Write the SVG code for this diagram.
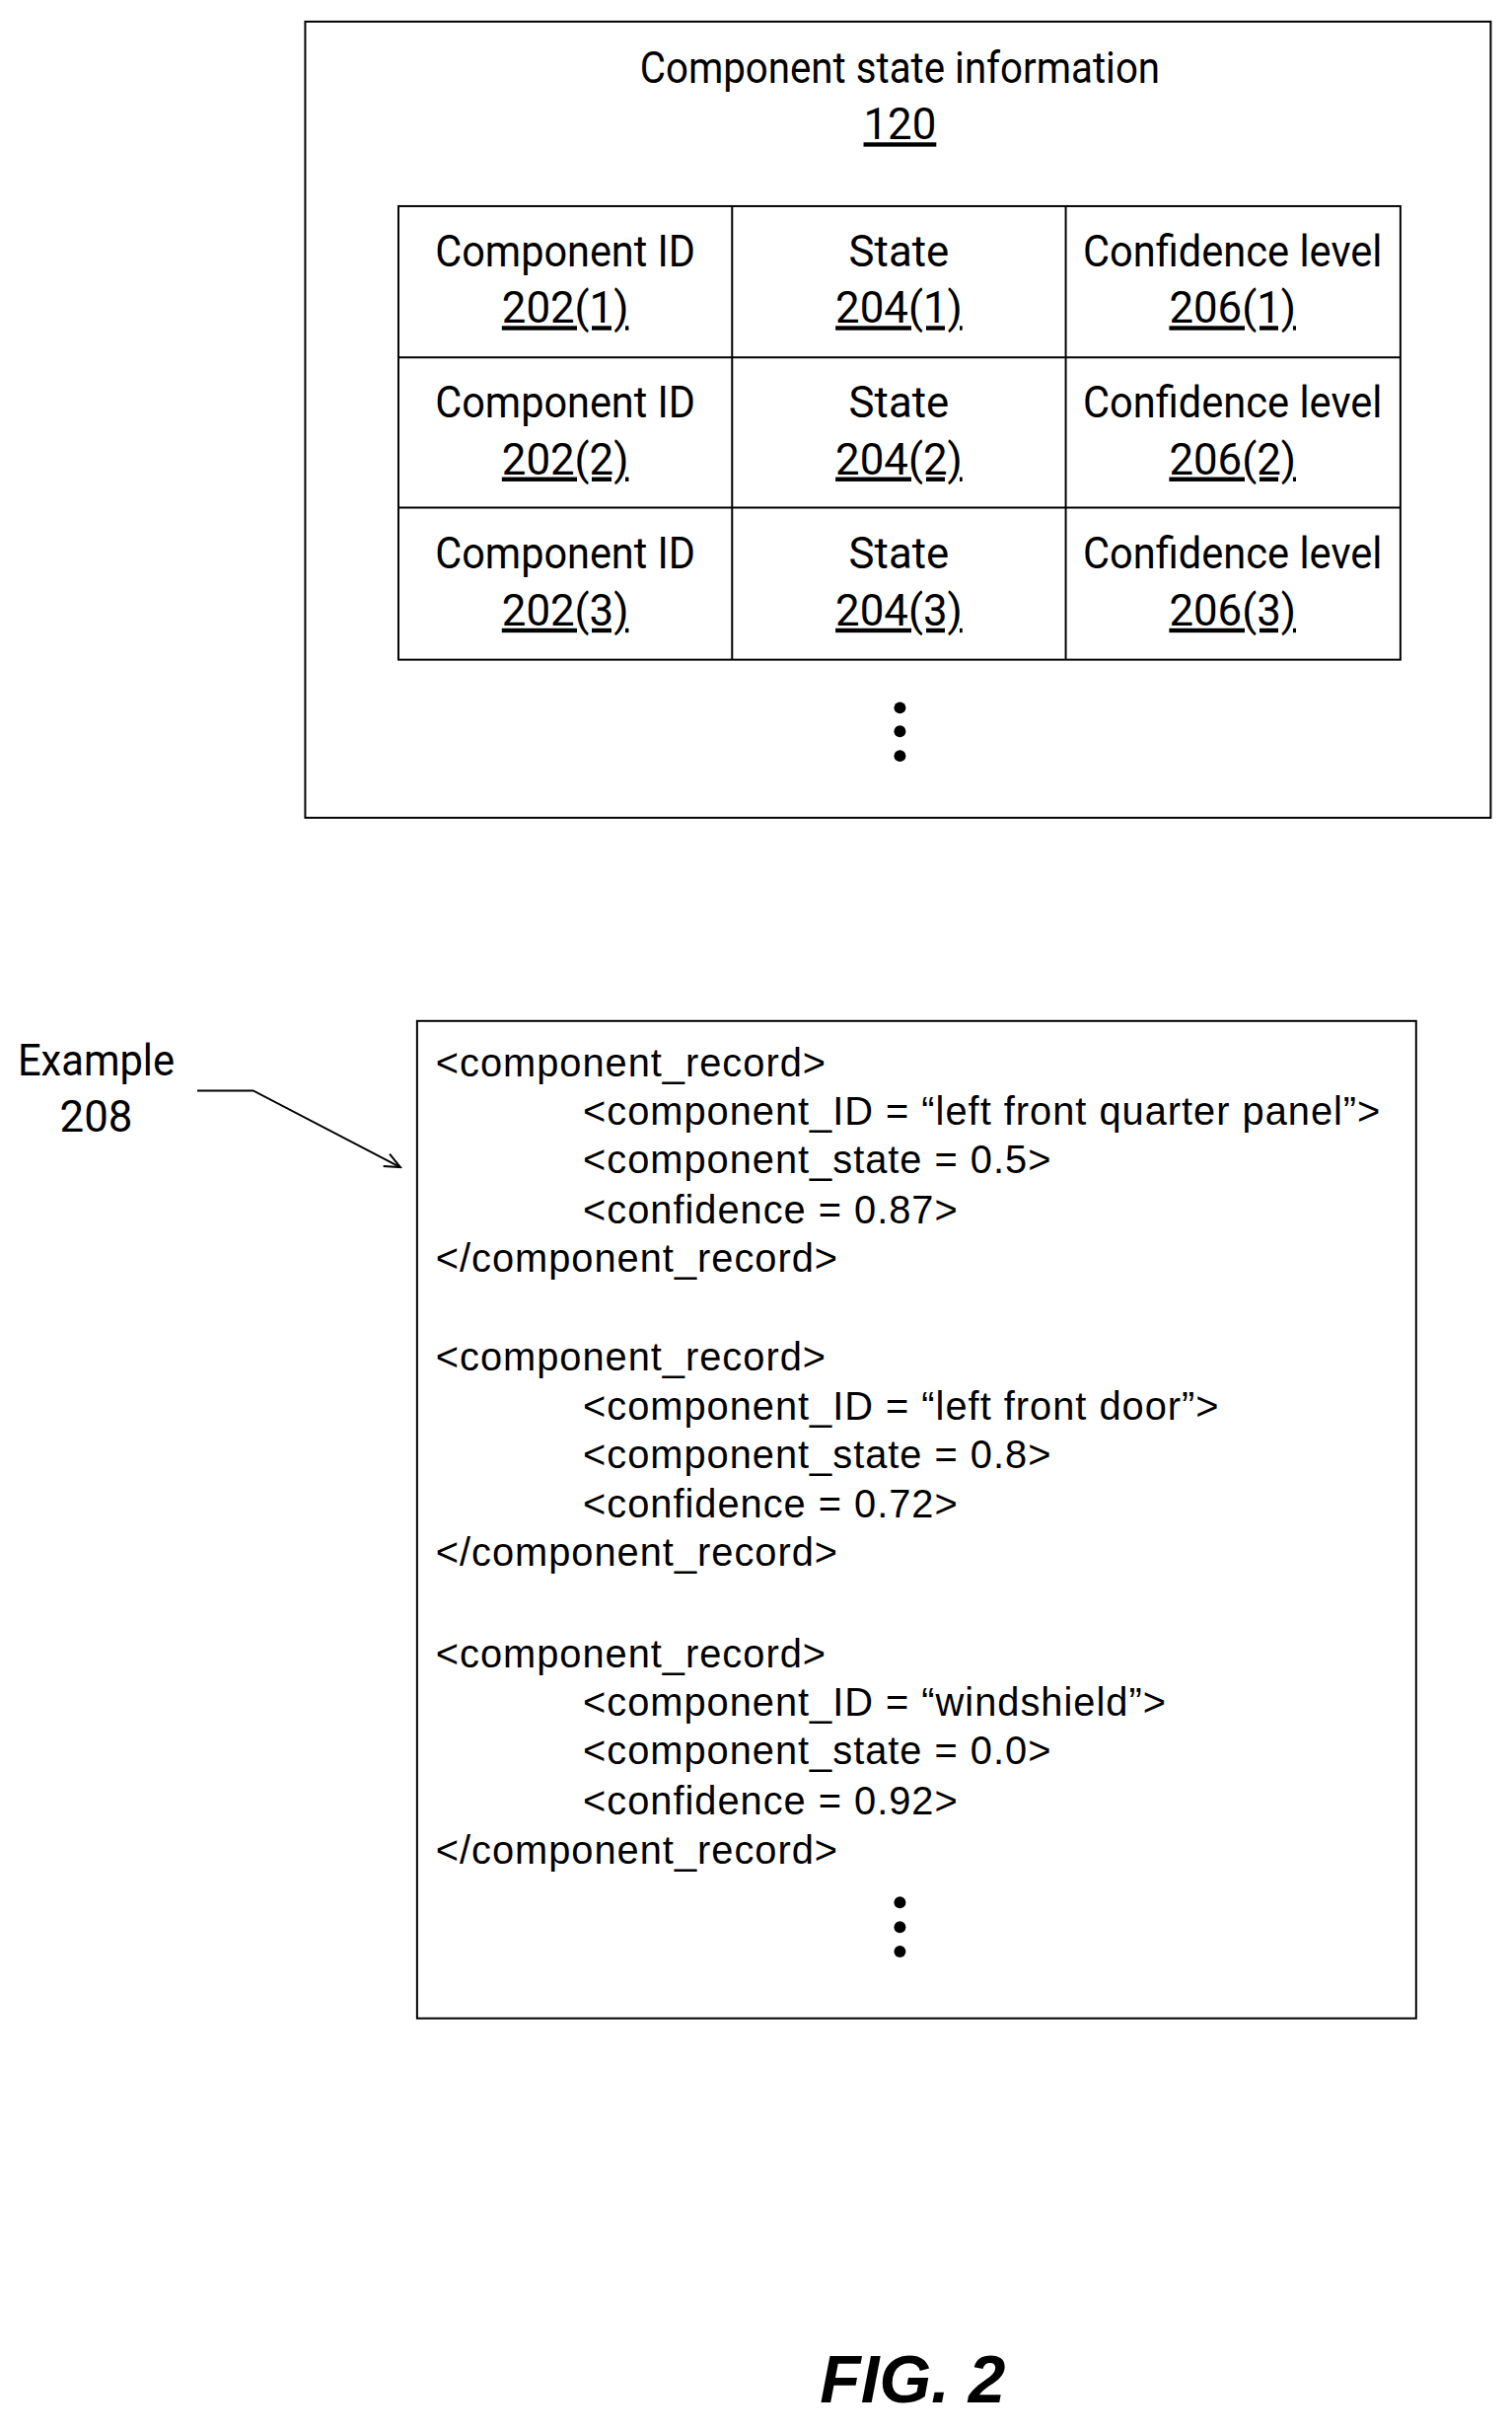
<svg xmlns="http://www.w3.org/2000/svg" width="1533" height="2466" viewBox="0 0 1533 2466">
<style>
.b{fill:none;stroke:#000;stroke-width:2}
.t{font-family:"Roboto","Liberation Sans",sans-serif;font-size:44px;text-anchor:middle;fill:#000}
.u{text-decoration:underline}
.c{font-family:"Liberation Sans",Arial,sans-serif;font-size:40px;letter-spacing:1px;fill:#000}
</style>
<defs><marker id="a" markerWidth="20" markerHeight="20" refX="18" refY="10" orient="auto" markerUnits="userSpaceOnUse"><path d="M2,3 L18,10 L2,17" fill="none" stroke="#000" stroke-width="2"/></marker></defs>
<rect width="1533" height="2466" fill="#fff"/>
<g transform="scale(0.995)">
<g id="state-info">
<rect class="b" x="311" y="22" width="1208" height="811"/>
<text class="t" x="917" y="84" textLength="530" lengthAdjust="spacingAndGlyphs">Component state information</text>
<text class="t u" x="917" y="142">120</text>
<g id="table">
<rect class="b" x="406" y="210" width="1021" height="462"/>
<line class="b" x1="746" y1="210" x2="746" y2="672" stroke-width="3"/>
<line class="b" x1="1086" y1="210" x2="1086" y2="672" stroke-width="3"/>
<line class="b" x1="406" y1="364" x2="1427" y2="364" stroke-width="3"/>
<line class="b" x1="406" y1="517" x2="1427" y2="517" stroke-width="3"/>
<text class="t" x="576" y="271" textLength="265" lengthAdjust="spacingAndGlyphs">Component ID</text>
<text class="t u" x="576" y="329">202(1)</text>
<text class="t" x="916" y="271">State</text>
<text class="t u" x="916" y="329">204(1)</text>
<text class="t" x="1256" y="271" textLength="305" lengthAdjust="spacingAndGlyphs">Confidence level</text>
<text class="t u" x="1256" y="329">206(1)</text>
<text class="t" x="576" y="425" textLength="265" lengthAdjust="spacingAndGlyphs">Component ID</text>
<text class="t u" x="576" y="483">202(2)</text>
<text class="t" x="916" y="425">State</text>
<text class="t u" x="916" y="483">204(2)</text>
<text class="t" x="1256" y="425" textLength="305" lengthAdjust="spacingAndGlyphs">Confidence level</text>
<text class="t u" x="1256" y="483">206(2)</text>
<text class="t" x="576" y="579" textLength="265" lengthAdjust="spacingAndGlyphs">Component ID</text>
<text class="t u" x="576" y="637">202(3)</text>
<text class="t" x="916" y="579">State</text>
<text class="t u" x="916" y="637">204(3)</text>
<text class="t" x="1256" y="579" textLength="305" lengthAdjust="spacingAndGlyphs">Confidence level</text>
<text class="t u" x="1256" y="637">206(3)</text>
</g>
<circle cx="917" cy="721" r="6"/><circle cx="917" cy="745" r="6"/><circle cx="917" cy="770" r="6"/>
</g>
<g id="example">
<rect class="b" x="425" y="1040" width="1018" height="1016"/>
<text class="c" x="444" y="1096">&lt;component_record&gt;</text>
<text class="c" x="594" y="1146">&lt;component_ID = “left front quarter panel”&gt;</text>
<text class="c" x="594" y="1195">&lt;component_state = 0.5&gt;</text>
<text class="c" x="594" y="1246">&lt;confidence = 0.87&gt;</text>
<text class="c" x="444" y="1295">&lt;/component_record&gt;</text>
<text class="c" x="444" y="1396">&lt;component_record&gt;</text>
<text class="c" x="594" y="1446">&lt;component_ID = “left front door”&gt;</text>
<text class="c" x="594" y="1495">&lt;component_state = 0.8&gt;</text>
<text class="c" x="594" y="1546">&lt;confidence = 0.72&gt;</text>
<text class="c" x="444" y="1595">&lt;/component_record&gt;</text>
<text class="c" x="444" y="1698">&lt;component_record&gt;</text>
<text class="c" x="594" y="1748">&lt;component_ID = “windshield”&gt;</text>
<text class="c" x="594" y="1797">&lt;component_state = 0.0&gt;</text>
<text class="c" x="594" y="1848">&lt;confidence = 0.92&gt;</text>
<text class="c" x="444" y="1898">&lt;/component_record&gt;</text>
<circle cx="917" cy="1938" r="6"/><circle cx="917" cy="1963" r="6"/><circle cx="917" cy="1988" r="6"/>
</g>
<g id="label-208">
<text class="t" x="98" y="1095" textLength="160" lengthAdjust="spacingAndGlyphs">Example</text>
<text class="t" x="98" y="1153">208</text>
</g>
<g id="connectors">
<polyline class="b" points="201,1111 258,1111 408,1189" marker-end="url(#a)"/>
</g>
<text x="930" y="2447" text-anchor="middle" font-family="Liberation Sans,Arial,sans-serif" font-size="68" font-weight="bold" font-style="italic">FIG. 2</text>
</g>
</svg>
